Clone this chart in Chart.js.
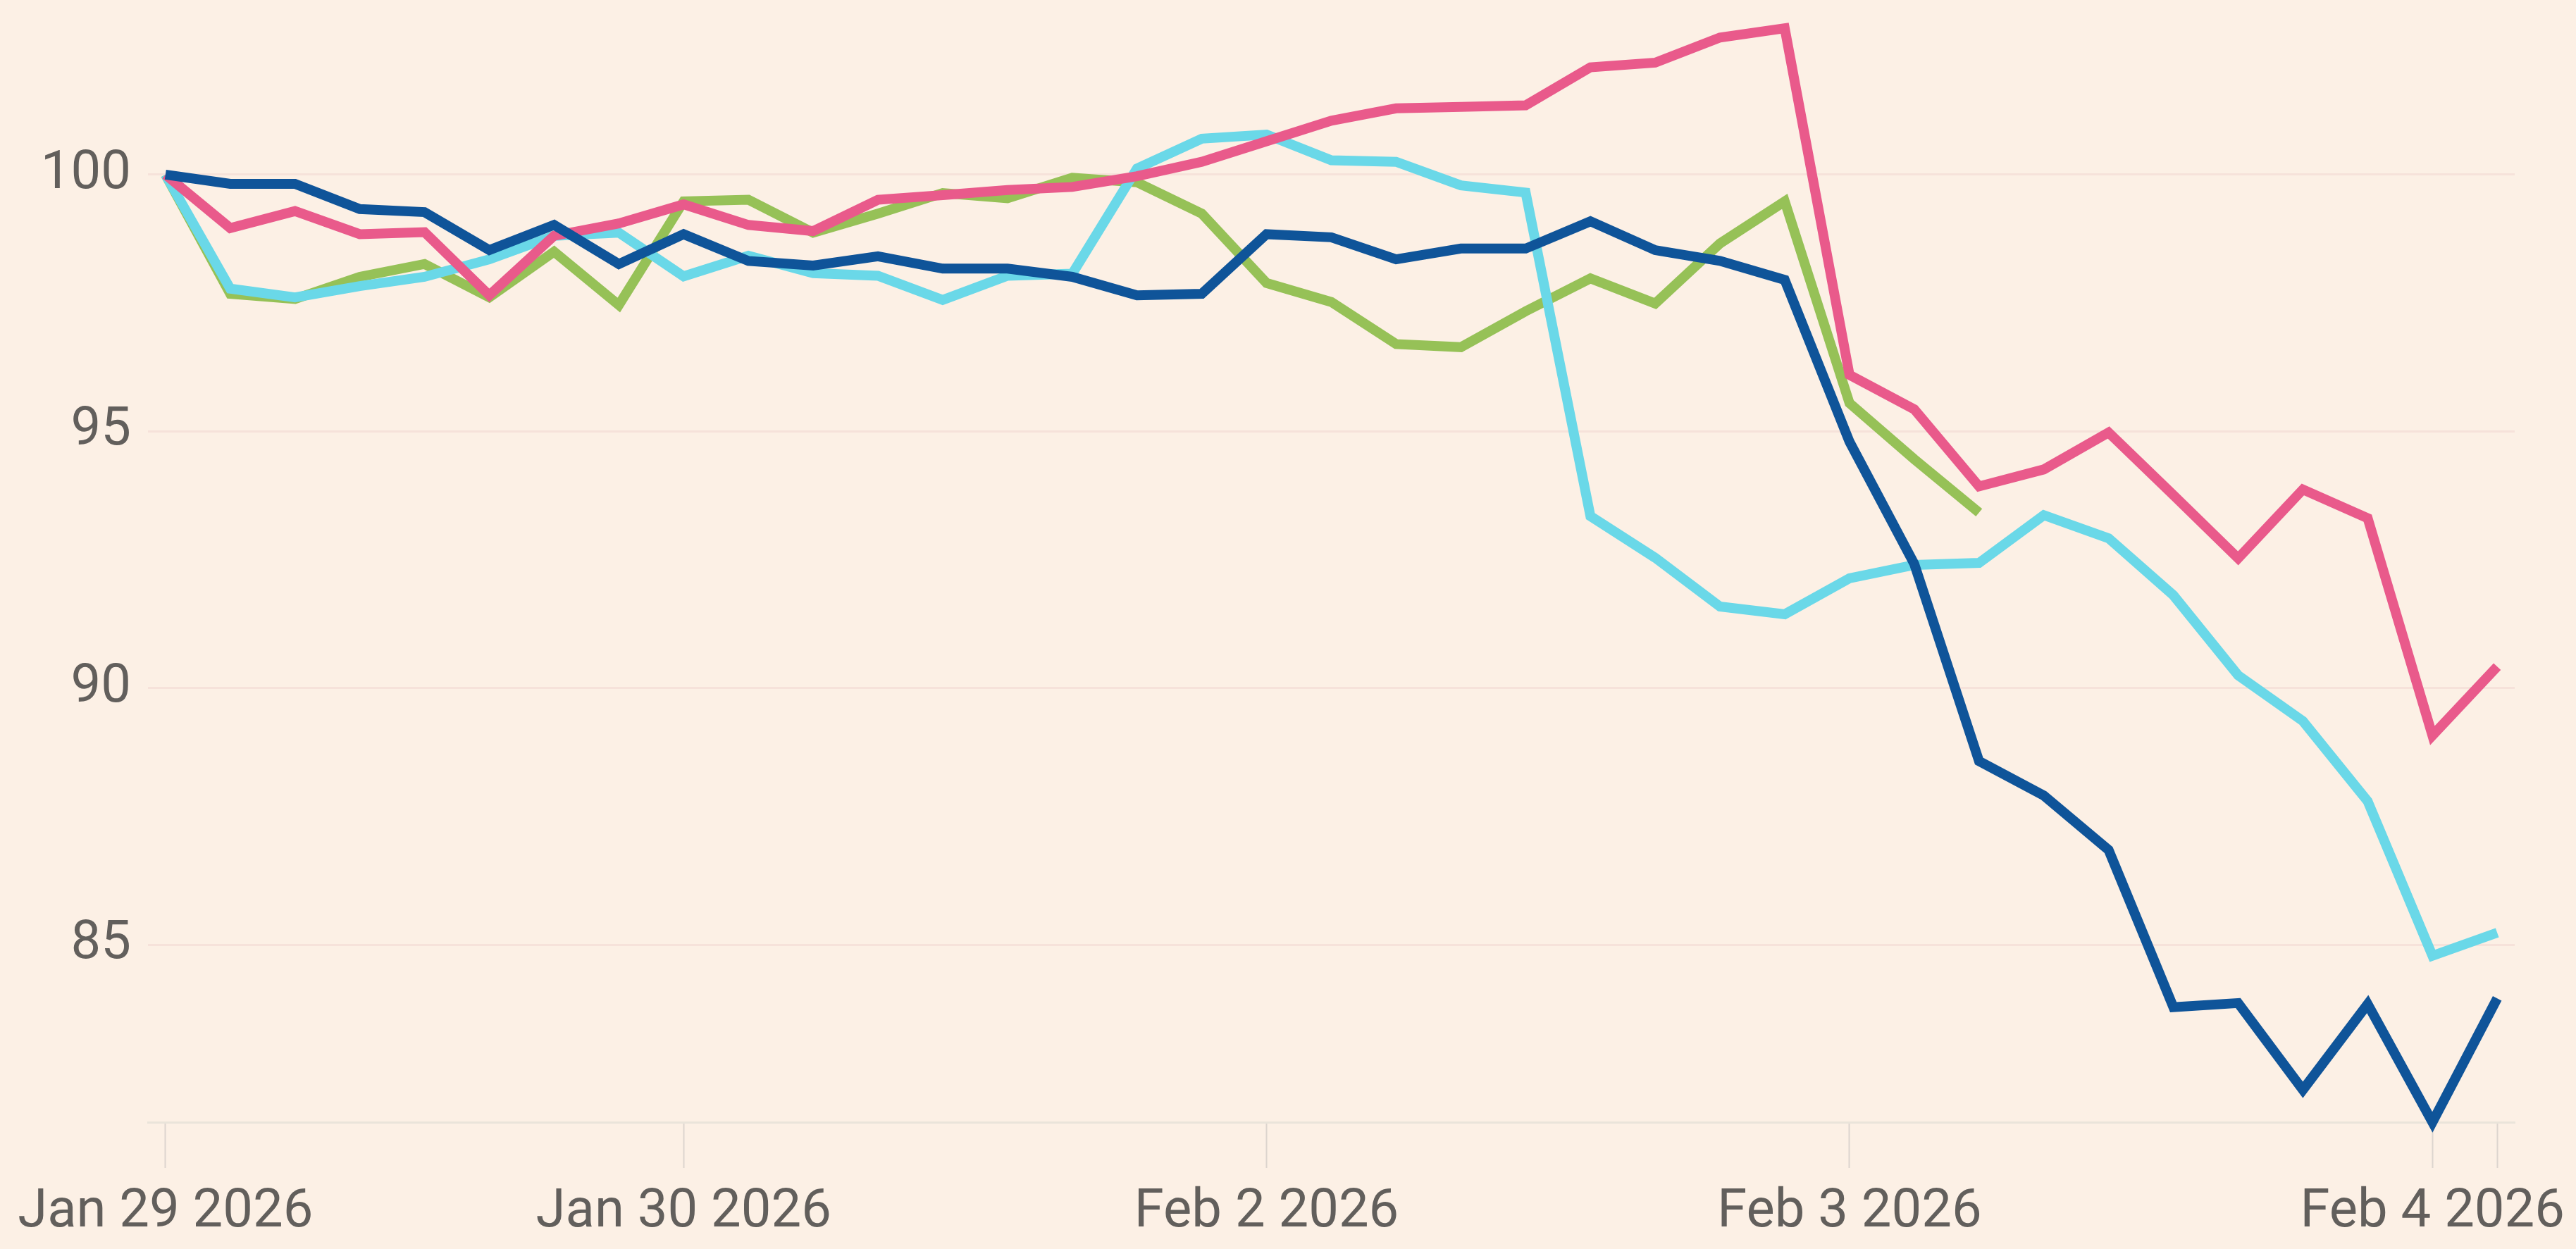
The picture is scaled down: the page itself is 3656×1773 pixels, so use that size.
<!DOCTYPE html>
<html>
<head>
<meta charset="utf-8">
<script src="https://cdn.jsdelivr.net/npm/chart.js@4.4.1/dist/chart.umd.min.js"></script>
<style>
    html, body { margin: 0; padding: 0; background: #FCF0E5; }
    #wrap { width: 3656px; height: 1773px; position: relative; }
</style>
</head>
<body>
<div id="wrap"><canvas id="lineChart"></canvas></div>
<script>
// x axis: one label per trading day, placed at that day's first reading
const dayLabels = ['Jan 29 2026', 'Jan 30 2026', 'Feb 2 2026', 'Feb 3 2026', 'Feb 4 2026'];
const dayStart = [0, 8, 17, 26, 35];
const lastReading = 36;
const yTicks = [85, 90, 95, 100];

// rebased series (start = 100)
const navySeries = [100.0, 99.82, 99.82, 99.33, 99.27, 98.53, 99.02, 98.26, 98.84, 98.32, 98.23, 98.41, 98.17,
    98.17, 98.01, 97.65, 97.68, 98.84, 98.78, 98.35, 98.56, 98.56, 99.09, 98.53, 98.32, 97.95, 94.8,
    92.42, 88.58, 87.91, 86.85, 83.79, 83.87, 82.18, 83.85, 81.55, 83.96];
const pinkSeries = [100.0, 98.96, 99.29, 98.84, 98.88, 97.65, 98.81, 99.05, 99.42, 99.02, 98.9, 99.51, 99.6,
    99.7, 99.76, 99.97, 100.25, 100.65, 101.05, 101.29, 101.32, 101.35, 102.09, 102.18, 102.67, 102.85, 96.1,
    95.43, 93.93, 94.26, 94.98, 93.76, 92.53, 93.87, 93.31, 89.08, 90.42];
const cyanSeries = [100.0, 97.78, 97.61, 97.83, 98.01, 98.35, 98.81, 98.87, 98.02, 98.42, 98.08, 98.03, 97.56,
    98.03, 98.07, 100.12, 100.7, 100.78, 100.28, 100.25, 99.79, 99.65, 93.35, 92.54, 91.59, 91.44, 92.14,
    92.4, 92.44, 93.37, 92.92, 91.81, 90.25, 89.36, 87.8, 84.79, 85.24];
const greenSeries = [100.0, 97.68, 97.58, 98.01, 98.26, 97.61, 98.5, 97.46, 99.48, 99.51, 98.87, 99.24, 99.64,
    99.54, 99.94, 99.85, 99.24, 97.89, 97.52, 96.7, 96.64, 97.34, 97.98, 97.49, 98.66, 99.48, 95.55,
    94.46, 93.42];

const toPoints = arr => arr.map((v, i) => ({ x: i, y: v }));
const tickFont = { family: 'Roboto', size: 76 };
const textColor = '#625F5C';

const line = (data, color) => ({
    data: toPoints(data),
    borderColor: color,
    borderWidth: 14,
    pointRadius: 0,
    tension: 0,
    fill: false,
    clip: false
});

new Chart(document.getElementById('lineChart'), {
    type: 'line',
    data: {
        datasets: [
            line(navySeries, '#0F5499'),
            line(pinkSeries, '#E95A8B'),
            line(cyanSeries, '#6AD8E8'),
            line(greenSeries, '#96C157')
        ]
    },
    options: {
        responsive: true,
        maintainAspectRatio: false,
        animation: false,
        layout: { padding: { top: 0, right: 87, bottom: 0, left: 0 } },
        plugins: {
            legend: { display: false },
            tooltip: { enabled: false }
        },
        scales: {
            x: {
                type: 'linear',
                min: -0.27,
                max: 36.27,
                afterBuildTicks: axis => {
                    axis.ticks = [...dayStart, lastReading].map(v => ({ value: v }));
                },
                afterFit: axis => {
                    axis.height = 180;
                    axis.paddingLeft = 0;
                    axis.paddingRight = 0;
                },
                ticks: {
                    autoSkip: false,
                    maxRotation: 0,
                    padding: 18,
                    font: tickFont,
                    color: textColor,
                    callback: v => {
                        const k = dayStart.indexOf(v);
                        return k >= 0 ? dayLabels[k] : '';
                    }
                },
                grid: {
                    drawOnChartArea: false,
                    drawTicks: true,
                    tickLength: 65,
                    tickWidth: 2,
                    tickColor: '#DDD5CE'
                },
                border: { display: true, color: '#EAE4DA', width: 3 }
            },
            y: {
                min: 81.55,
                max: 103.4,
                afterBuildTicks: axis => {
                    axis.ticks = yTicks.map(v => ({ value: v }));
                },
                afterFit: axis => {
                    axis.width = 210;
                    axis.paddingTop = 0;
                    axis.paddingBottom = 0;
                },
                ticks: {
                    padding: 24,
                    font: tickFont,
                    color: textColor
                },
                grid: {
                    drawTicks: false,
                    color: '#F6E2DA',
                    lineWidth: 3
                },
                border: { display: false }
            }
        }
    }
});
</script>
</body>
</html>
